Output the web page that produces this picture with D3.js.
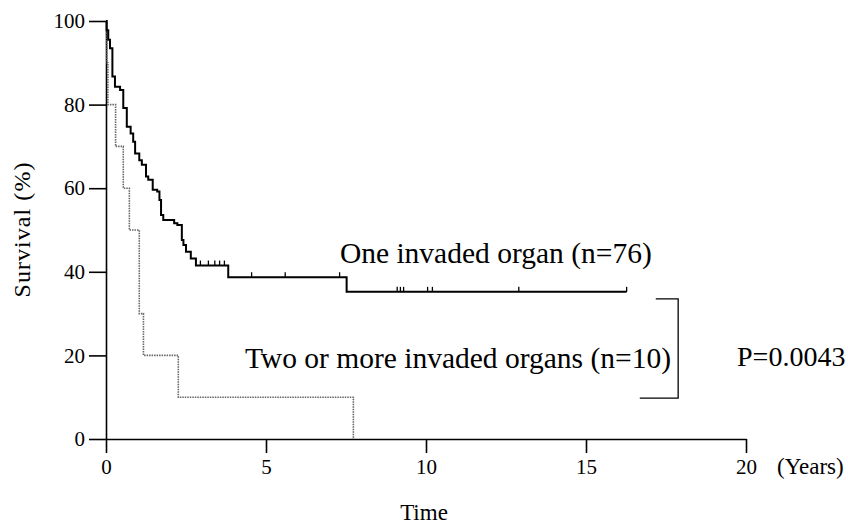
<!DOCTYPE html>
<html>
<head>
<meta charset="utf-8">
<script src="https://cdn.jsdelivr.net/npm/d3@7"></script>
<style>
  body { margin: 0; background: #fff; }
  svg text { font-family: "Liberation Serif", "Times New Roman", serif; fill: #000; }
  .axis path, .axis line { stroke: #000; stroke-width: 1.6px; }
  .axis text { font-size: 21px; font-family: "Liberation Serif", "Times New Roman", serif; }
</style>
</head>
<body>
<svg id="chart" width="848" height="527"></svg>
<script>
// one invaded organ (n=76): drop times (years) and survival (%) after each drop
const oneTimes = [0, 0.02, 0.07, 0.125, 0.2, 0.28, 0.44, 0.54, 0.65, 0.77, 0.85, 0.91, 1.04, 1.12, 1.25, 1.32,
  1.46, 1.6, 1.67, 1.72, 1.79, 2.13, 2.23, 2.37, 2.42, 2.5, 2.65, 2.81, 3.82, 7.52, 16.27];
const oneSurv = [100, 97.8, 95.5, 93.5, 86.7, 84.3, 83.5, 79.2, 74.7, 73.1, 71.1, 68.3, 66.7, 65.6, 62.8, 62.0,
  59.6, 59.2, 57.2, 53.6, 52.4, 51.6, 51.2, 47.6, 46.4, 44.8, 43.2, 41.5, 38.7, 35.2, 35.2];
// censored cases (tick marks)
const oneCensored = [2.95, 3.2, 3.4, 3.55, 3.7, 4.55, 5.6, 7.3, 9.1, 9.2, 9.3, 10.05, 10.2, 12.9, 16.27];

// two or more invaded organs (n=10)
const twoTimes = [0, 0.03, 0.06, 0.3, 0.54, 0.73, 1.04, 1.17, 2.26, 7.73];
const twoSurv = [100, 90, 80, 70, 60, 50, 30, 20, 10, 0];

const xTicks = [0, 5, 10, 15, 20];
const yTicks = [0, 20, 40, 60, 80, 100];

const labelOne = 'One invaded organ (n=76)';
const labelTwo = 'Two or more invaded organs (n=10)';
const pLabel = 'P=0.0043';

const svg = d3.select('#chart');
const margin = { top: 21, right: 102, bottom: 88, left: 106 };
const width = +svg.attr('width');
const height = +svg.attr('height');

const x = d3.scaleLinear().domain([0, 20]).range([margin.left, width - margin.right]);
const y = d3.scaleLinear().domain([0, 100]).range([height - margin.bottom, margin.top]);

// axes
svg.append('g')
    .attr('class', 'axis')
    .attr('transform', `translate(0,${y(0)})`)
    .call(d3.axisBottom(x).tickValues(xTicks).tickSize(14).tickSizeOuter(0).tickPadding(6));

svg.append('g')
    .attr('class', 'axis')
    .attr('transform', `translate(${x(0)},0)`)
    .call(d3.axisLeft(y).tickValues(yTicks).tickSize(17).tickSizeOuter(0).tickPadding(4));

svg.selectAll('.axis text').attr('fill', '#000');

// axis titles
svg.append('text')
    .attr('x', x(20) + 31).attr('y', y(0) + 35)
    .style('font-size', '23px')
    .text('(Years)');

svg.append('text')
    .attr('x', x(10) - 2).attr('y', height - 7)
    .attr('text-anchor', 'middle')
    .style('font-size', '23px')
    .text('Time');

svg.append('text')
    .attr('transform', `translate(30,${(y(0) + y(100)) / 2}) rotate(-90)`)
    .attr('text-anchor', 'middle')
    .attr('textLength', 135)
    .attr('lengthAdjust', 'spacing')
    .style('font-size', '24px')
    .text('Survival (%)');

// survival curves
const stepLine = d3.line()
    .x(d => x(d[0]))
    .y(d => y(d[1]))
    .curve(d3.curveStepAfter);

const twoData = twoTimes.map((t, i) => [t, twoSurv[i]]);
const oneData = oneTimes.map((t, i) => [t, oneSurv[i]]);

svg.append('path')
    .datum(twoData)
    .attr('d', stepLine)
    .attr('fill', 'none')
    .attr('stroke', '#666')
    .attr('stroke-width', 1.6)
    .attr('stroke-dasharray', '1.5,1');

svg.append('path')
    .datum(oneData)
    .attr('d', stepLine)
    .attr('fill', 'none')
    .attr('stroke', '#000')
    .attr('stroke-width', 2);

// censor ticks sit on the curve level at that time
const bisect = d3.bisector(d => d[0]).right;
const levelAt = t => oneData[Math.max(0, bisect(oneData, t) - 1)][1];

svg.selectAll('line.censor')
  .data(oneCensored)
  .enter().append('line')
    .attr('class', 'censor')
    .attr('x1', d => x(d)).attr('x2', d => x(d))
    .attr('y1', d => y(levelAt(d)))
    .attr('y2', d => y(levelAt(d)) - 5)
    .attr('stroke', '#000')
    .attr('stroke-width', 1.3);

// labels
svg.append('text')
    .attr('x', x(7.31)).attr('y', y(42))
    .style('font-size', '29.5px')
    .text(labelOne);

svg.append('text')
    .attr('x', x(4.34)).attr('y', y(17))
    .style('font-size', '29.5px')
    .text(labelTwo);

svg.append('text')
    .attr('x', x(19.72)).attr('y', y(17.4))
    .style('font-size', '28px')
    .text(pLabel);

// bracket joining the two groups
const bracket = [[17.18, 33.5], [17.88, 33.5], [17.88, 9.8], [16.68, 9.8]];
svg.append('path')
    .datum(bracket)
    .attr('d', d3.line().x(d => x(d[0])).y(d => y(d[1])))
    .attr('fill', 'none')
    .attr('stroke', '#000')
    .attr('stroke-width', 1.3);
</script>
</body>
</html>
